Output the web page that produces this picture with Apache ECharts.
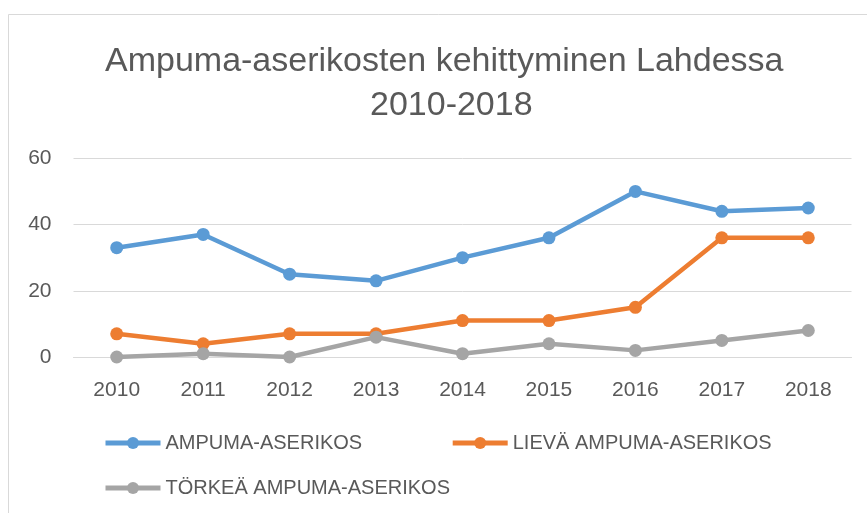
<!DOCTYPE html>
<html>
<head>
<meta charset="utf-8">
<script src="https://cdn.jsdelivr.net/npm/echarts@6/dist/echarts.min.js"></script>
<style>
  html, body { margin: 0; padding: 0; background: #ffffff; }
  #chart { width: 867px; height: 513px; }
</style>
</head>
<body>
<div id="chart"></div>
<script>
const categories = ['2010', '2011', '2012', '2013', '2014', '2015', '2016', '2017', '2018'];
const seriesNames = ['AMPUMA-ASERIKOS', 'LIEVÄ AMPUMA-ASERIKOS', 'TÖRKEÄ AMPUMA-ASERIKOS'];
const ampuma = [33, 37, 25, 23, 30, 36, 50, 44, 45];
const lieva = [7, 4, 7, 7, 11, 11, 15, 36, 36];
const torkea = [0, 1, 0, 6, 1, 4, 2, 5, 8];
const titleLine1 = 'Ampuma-aserikosten kehittyminen Lahdessa';
const titleLine2 = '2010-2018';

const FONT = '"Liberation Sans", Arial, sans-serif';
const TEXT = '#595959';
const colors = ['#5B9BD5', '#ED7D31', '#A5A5A5'];

const chart = echarts.init(document.getElementById('chart'), null, { renderer: 'canvas' });

function mkSeries(name, data, color) {
  return {
    name: name,
    type: 'line',
    data: data,
    symbol: 'circle',
    symbolSize: 13,
    showAllSymbol: true,
    color: color,
    lineStyle: { width: 4.5, color: color },
    itemStyle: { color: color },
    emphasis: { disabled: true },
    animation: false
  };
}

const legendCommon = {
  orient: 'horizontal',
  itemWidth: 55,
  itemHeight: 15,
  itemGap: 88,
  lineStyle: { width: 5 },
  textStyle: { color: TEXT, fontSize: 20, fontFamily: FONT },
  selectedMode: false
};

const titleStyle = {
  color: TEXT,
  fontSize: 34,
  fontWeight: 'normal',
  fontFamily: FONT,
  lineHeight: 44
};

chart.setOption({
  backgroundColor: '#ffffff',
  animation: false,
  color: colors,
  title: [
    { text: titleLine1, left: 100, top: 35, textStyle: titleStyle },
    { text: titleLine2, left: 365, top: 79, textStyle: titleStyle }
  ],
  graphic: [{
    type: 'rect',
    shape: { x: 8.5, y: 14.5, width: 1000, height: 1000 },
    style: { fill: 'none', stroke: '#D9D9D9', lineWidth: 1 },
    silent: true
  }],
  legend: [
    Object.assign({}, legendCommon, { data: [seriesNames[0], seriesNames[1]], left: 98, top: 428 }),
    Object.assign({}, legendCommon, { data: [seriesNames[2]], left: 98, top: 473 })
  ],
  grid: {
    left: 73.5,
    right: 15.5,
    top: 158.3,
    bottom: 156
  },
  xAxis: {
    type: 'category',
    data: categories,
    boundaryGap: true,
    axisLine: { show: true, lineStyle: { color: '#D9D9D9', width: 1 } },
    axisTick: { show: false },
    axisLabel: { color: TEXT, fontSize: 21, fontFamily: FONT, margin: 23 },
    splitLine: { show: false }
  },
  yAxis: {
    type: 'value',
    min: 0,
    max: 60,
    interval: 20,
    axisLine: { show: false },
    axisTick: { show: false },
    axisLabel: { color: TEXT, fontSize: 21, fontFamily: FONT, margin: 22 },
    splitLine: { show: true, lineStyle: { color: '#D9D9D9', width: 1 } }
  },
  series: [
    mkSeries(seriesNames[0], ampuma, colors[0]),
    mkSeries(seriesNames[1], lieva, colors[1]),
    mkSeries(seriesNames[2], torkea, colors[2])
  ]
});
</script>
</body>
</html>
